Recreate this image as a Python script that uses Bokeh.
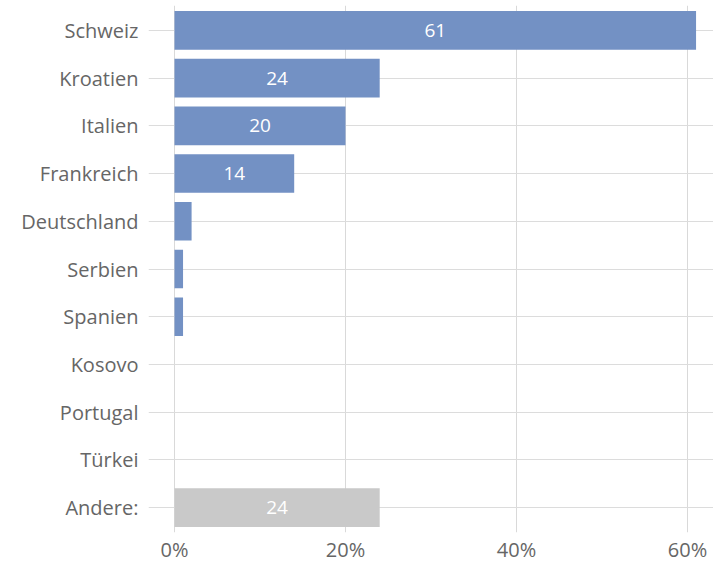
from bokeh.plotting import figure
from bokeh.models import ColumnDataSource, FixedTicker, NumeralTickFormatter
from bokeh.embed import file_html
from bokeh.resources import INLINE
from bokeh.core.properties import value

countries = ["Schweiz", "Kroatien", "Italien", "Frankreich", "Deutschland", "Serbien",
             "Spanien", "Kosovo", "Portugal", "Türkei", "Andere:"]
shares = [61, 24, 20, 14, 2, 1, 1, 0, 0, 0, 24]
label_texts = ["61", "24", "20", "14", "", "", "", "", "", "", "24"]
x_ticks = [0, 20, 40, 60]

BLUE = "#7391c4"
GREY = "#c9c9c9"
FONT = "Open Sans"

ypos = list(range(len(countries)))
colors = [GREY if c == "Andere:" else BLUE for c in countries]
src = ColumnDataSource(dict(y=ypos, v=shares, mid=[s / 2 for s in shares],
                            c=colors, t=label_texts))

p = figure(width=713, height=565, output_backend="svg", toolbar_location=None,
           x_range=(-3.04, 63.04), y_range=(10.52, -0.52),
           min_border_left=148, min_border_right=0, min_border_top=5, min_border_bottom=31)
p.outline_line_color = None

p.hbar(y="y", left=0, right="v", height=0.81, fill_color="c", line_color=None, source=src)
p.text(x="mid", y="y", text="t", source=src, text_align="center", text_baseline="middle",
       text_color="white", text_font=value(FONT), text_font_size="19px")

# grids
p.xgrid.ticker = FixedTicker(ticks=x_ticks)
p.xgrid.grid_line_color = "#d9d9d9"
p.ygrid.ticker = FixedTicker(ticks=ypos)
p.ygrid.grid_line_color = "#dcdcdc"
p.xgrid.level = "underlay"
p.ygrid.level = "underlay"

# axes
p.xaxis.ticker = FixedTicker(ticks=x_ticks)
p.xaxis.formatter = NumeralTickFormatter(format="0")
p.xaxis.major_label_overrides = {t: f"{t}%" for t in x_ticks}
p.yaxis.ticker = FixedTicker(ticks=ypos)
p.yaxis.major_label_overrides = {i: c for i, c in enumerate(countries)}
for ax in (p.xaxis[0], p.yaxis[0]):
    ax.axis_line_color = None
    ax.major_tick_line_color = None
    ax.minor_tick_line_color = None
    ax.major_tick_out = 0
    ax.major_tick_in = 0
    ax.minor_tick_out = 0
    ax.major_label_text_font = FONT
    ax.major_label_text_font_size = "20px"
    ax.major_label_text_color = "#666666"
p.xaxis.major_label_standoff = 3
p.yaxis.major_label_standoff = 10

open("out.html", "w").write(file_html(p, INLINE))
